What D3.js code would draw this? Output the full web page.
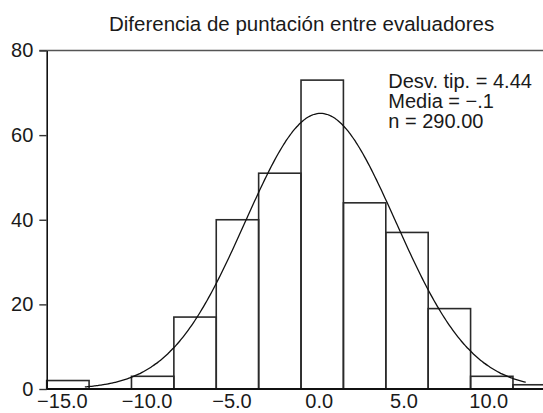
<!DOCTYPE html>
<html>
<head>
<meta charset="utf-8">
<script src="https://cdn.jsdelivr.net/npm/d3@7"></script>
<style>
  html, body { margin: 0; padding: 0; background: #fff; overflow: hidden; }
  svg { display: block; }
  text { font-family: "Liberation Sans", Arial, Helvetica, sans-serif; fill: #1a1a1a; }
</style>
</head>
<body>
<script>
// ---- data ----
const binCenters = [-15, -12.5, -10, -7.5, -5, -2.5, 0, 2.5, 5, 7.5, 10, 12.5];
const counts     = [2, 0, 3, 17, 40, 51, 73, 44, 37, 19, 3, 1];
const binWidth = 2.5;
const yTicks = [0, 20, 40, 60, 80];
const xTickLabels = [-15, -10, -5, 0, 5, 10];
const statsMean = -0.1;
const statsSD = 4.44;
const statsN = 290;
const curveRange = [-14, 12];
const titleText = "Diferencia de puntación entre evaluadores";
const statsLines = ["Desv. tip. = 4.44", "Media = \u2212.1", "n = 290.00"];

// ---- layout ----
const W = 543, H = 413;
const svg = d3.select("body").append("svg").attr("width", W).attr("height", H);

const x = d3.scaleLinear().domain([-16.25, 13.75]).range([46.7, 46.7 + 30 * 16.955]);
const y = d3.scaleLinear().domain([0, 80]).range([389, 50.5]);

// title
svg.append("text")
  .attr("x", 301.6).attr("y", 31)
  .attr("text-anchor", "middle")
  .style("font-size", "20.5px")
  .text(titleText);

// top frame line (80 level)
svg.append("line")
  .attr("x1", 39.3).attr("x2", W)
  .attr("y1", y(80)).attr("y2", y(80))
  .attr("stroke", "#555").attr("stroke-width", 1.6);

// bars
svg.append("g").selectAll("rect")
  .data(binCenters.map((c, i) => ({c, v: counts[i]})))
  .join("rect")
  .attr("x", d => x(d.c - binWidth / 2))
  .attr("width", d => x(d.c + binWidth / 2) - x(d.c - binWidth / 2))
  .attr("y", d => y(d.v))
  .attr("height", d => y(0) - y(d.v))
  .attr("fill", "none")
  .attr("stroke", "#2a2a2a")
  .attr("stroke-width", 1.6);

// normal curve
const pdfScale = statsN * binWidth / (statsSD * Math.sqrt(2 * Math.PI));
const curvePts = d3.range(curveRange[0], curveRange[1] + 0.001, 0.1).map(v => [
  v, pdfScale * Math.exp(-0.5 * Math.pow((v - statsMean) / statsSD, 2))
]);
svg.append("path")
  .datum(curvePts)
  .attr("d", d3.line().x(d => x(d[0])).y(d => y(d[1])).curve(d3.curveBasis))
  .attr("fill", "none")
  .attr("stroke", "#111")
  .attr("stroke-width", 1.3);

// y axis
const yAxis = d3.axisLeft(y).tickValues(yTicks).tickSize(7.4).tickPadding(6).tickSizeOuter(0);
const gy = svg.append("g").attr("transform", "translate(46.7,0)").call(yAxis);
gy.select(".domain").attr("stroke", "#111").attr("stroke-width", 1.6);
gy.selectAll(".tick line").attr("stroke", "#333").attr("stroke-width", 1.4);
gy.selectAll(".tick text")
  .style("font-size", "20px")
  .style("font-family", "'Liberation Sans', Arial, sans-serif")
  .attr("fill", "#1a1a1a");

// x axis (baseline + labels, no ticks)
const fmt = v => (v < 0 ? "\u2212" : "") + d3.format(".1f")(Math.abs(v));
const xAxis = d3.axisBottom(x).tickValues(xTickLabels).tickSize(0).tickPadding(0).tickFormat(fmt).tickSizeOuter(0);
const gx = svg.append("g").attr("transform", `translate(0,${y(0)})`).call(xAxis);
gx.select(".domain").attr("d", `M46.7,0H${W}`).attr("stroke", "#111").attr("stroke-width", 2);
gx.selectAll(".tick text")
  .attr("y", 19)
  .attr("dy", 0)
  .attr("dx", d => d < 0 ? -6 : -3.5)
  .style("font-size", "20px")
  .style("font-family", "'Liberation Sans', Arial, sans-serif")
  .attr("fill", "#1a1a1a");

// stats text
svg.append("g").selectAll("text")
  .data(statsLines)
  .join("text")
  .attr("x", 388.3)
  .attr("y", (d, i) => 87.7 + i * 20.2)
  .style("font-size", "20px")
  .text(d => d);
</script>
</body>
</html>
